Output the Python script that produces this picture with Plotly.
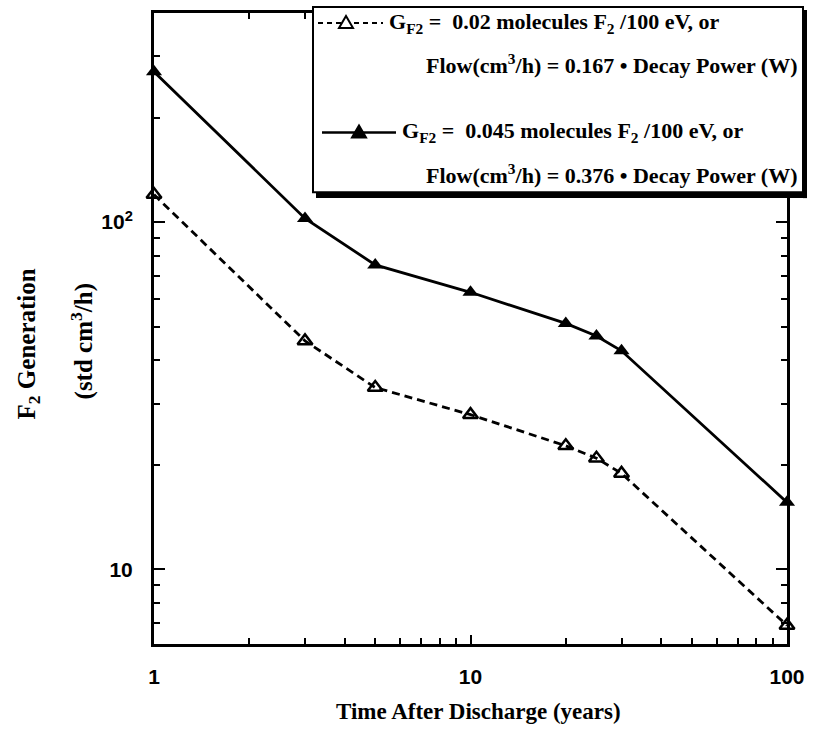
import math
import plotly.graph_objects as go

# ---- data ----
years = [1, 3, 5, 10, 20, 25, 30, 100]
flow_g002 = [120, 45.5, 33.4, 27.9, 22.7, 20.9, 18.9, 6.9]
flow_g0045 = [271, 102.5, 75.3, 62.8, 51.1, 47.0, 42.6, 15.6]

x_tickvals = [1, 10, 100]
x_ticktext = ["1", "10", "100"]
y_tickvals = [10, 100]
y_ticktext = ["10", "10<sup>2</sup>"]
x_minor = [2, 3, 4, 5, 6, 7, 8, 9, 20, 30, 40, 50, 60, 70, 80, 90]
y_minor = [7, 8, 9, 20, 30, 40, 50, 60, 70, 80, 90, 200, 300]

legend_rows = [
    "G<sub>F2</sub> =&nbsp; 0.02 molecules F<sub>2</sub> /100 eV, or",
    "Flow(cm<sup>3</sup>/h) = 0.167 \u2022 Decay Power (W)",
    "G<sub>F2</sub> =&nbsp; 0.045 molecules F<sub>2</sub> /100 eV, or",
    "Flow(cm<sup>3</sup>/h) = 0.376 \u2022 Decay Power (W)",
]

# ---- geometry ----
W, H = 815, 738
L, R, T, B = 154, 28, 10, 94


def fx(px):
    return (px - L) / (W - L - R)


def fy(py):
    return (H - B - py) / (H - T - B)


SERIF = "Liberation Serif"
SANS = "Liberation Sans"

fig = go.Figure()
fig.add_trace(go.Scatter(
    x=years, y=flow_g002, mode="lines+markers", showlegend=False,
    line=dict(color="black", width=2.8, dash="8px,5px"),
    marker=dict(symbol="triangle-up-open", size=13, color="black",
                line=dict(color="black", width=2.5)),
    cliponaxis=False))
fig.add_trace(go.Scatter(
    x=years, y=flow_g0045, mode="lines+markers", showlegend=False,
    line=dict(color="black", width=2.8),
    marker=dict(symbol="triangle-up", size=14, color="black"),
    cliponaxis=False))

axis_common = dict(
    type="log", showline=True, linewidth=3, linecolor="black",
    mirror="ticks", ticks="inside", tickwidth=2, tickcolor="black",
    showgrid=False, zeroline=False,
    tickfont=dict(family=SANS, size=21, color="black", weight="bold"),
)

fig.update_xaxes(
    **axis_common, range=[0, 2], tickmode="array",
    tickvals=x_tickvals, ticktext=x_ticktext, ticklen=9,
    ticklabelstandoff=12,
    minor=dict(ticks="inside", ticklen=6, tickwidth=2, tickcolor="black",
               tickvals=x_minor, showgrid=False))
fig.update_yaxes(
    **axis_common, range=[math.log10(6.1), math.log10(400)], tickmode="array",
    tickvals=y_tickvals, ticktext=y_ticktext, ticklen=11,
    ticklabelstandoff=14,
    minor=dict(ticks="inside", ticklen=6, tickwidth=2, tickcolor="black",
               tickvals=y_minor, showgrid=False))

shapes = []
BX0, BX1, BY0, BY1 = 313, 803, 4, 190
# legend box with heavy shadow on right/bottom
shapes.append(dict(type="rect", xref="paper", yref="paper",
                   x0=fx(BX0), x1=fx(BX1), y0=fy(BY1), y1=fy(BY0),
                   line=dict(color="black", width=2), fillcolor="white",
                   layer="above"))
shapes.append(dict(type="rect", xref="paper", yref="paper",
                   x0=fx(BX0 + 3), x1=fx(BX1 + 4), y0=fy(BY1 + 6), y1=fy(BY1),
                   line=dict(width=0), fillcolor="black", layer="above"))
shapes.append(dict(type="rect", xref="paper", yref="paper",
                   x0=fx(BX1), x1=fx(BX1 + 4), y0=fy(BY1 + 6), y1=fy(BY0 + 3),
                   line=dict(width=0), fillcolor="black", layer="above"))

row_y = [20, 61, 130, 172]
# sample lines
shapes.append(dict(type="line", xref="paper", yref="paper",
                   x0=fx(318), x1=fx(383), y0=fy(row_y[0]), y1=fy(row_y[0]),
                   line=dict(color="black", width=2, dash="5px,4px"),
                   layer="above"))
shapes.append(dict(type="line", xref="paper", yref="paper",
                   x0=fx(322), x1=fx(396), y0=fy(row_y[2]), y1=fy(row_y[2]),
                   line=dict(color="black", width=2.5), layer="above"))


def tri(cx, cy, filled):
    p = [(cx - 7, cy + 5), (cx + 7, cy + 5), (cx, cy - 7)]
    path = "M {} {} L {} {} L {} {} Z".format(
        fx(p[0][0]), fy(p[0][1]), fx(p[1][0]), fy(p[1][1]),
        fx(p[2][0]), fy(p[2][1]))
    return dict(type="path", xref="paper", yref="paper", path=path,
                line=dict(color="black", width=2),
                fillcolor="black" if filled else "white", layer="above")


shapes.append(tri(346, row_y[0], False))
shapes.append(tri(359, row_y[2], True))

annotations = []
legend_x = [387, 424, 400, 424]
for txt, xx, yy in zip(legend_rows, legend_x, row_y):
    annotations.append(dict(
        text=txt, xref="paper", yref="paper", x=fx(xx), y=fy(yy),
        xanchor="left", yanchor="middle", showarrow=False,
        font=dict(family=SERIF, size=22, color="black", weight="bold")))

annotations.append(dict(
    text="Time After Discharge (years)", xref="paper", yref="paper",
    x=fx(478), y=fy(712), xanchor="center", yanchor="middle",
    showarrow=False,
    font=dict(family=SERIF, size=23, color="black", weight="bold")))
annotations.append(dict(
    text="F<sub>2</sub> Generation", xref="paper", yref="paper",
    x=fx(28), y=fy(343), xanchor="center", yanchor="middle",
    textangle=-90, showarrow=False,
    font=dict(family=SERIF, size=25, color="black", weight="bold")))
annotations.append(dict(
    text="(std cm<sup>3</sup>/h)", xref="paper", yref="paper",
    x=fx(82), y=fy(340), xanchor="center", yanchor="middle",
    textangle=-90, showarrow=False,
    font=dict(family=SERIF, size=25, color="black", weight="bold")))

fig.update_layout(
    width=W, height=H, margin=dict(l=L, r=R, t=T, b=B),
    paper_bgcolor="white", plot_bgcolor="white",
    shapes=shapes, annotations=annotations, showlegend=False)

fig.write_html("out.html",
               config={"displayModeBar": False},
               post_script="document.body.style.margin='0';"
                           "document.body.style.overflow='hidden';")
